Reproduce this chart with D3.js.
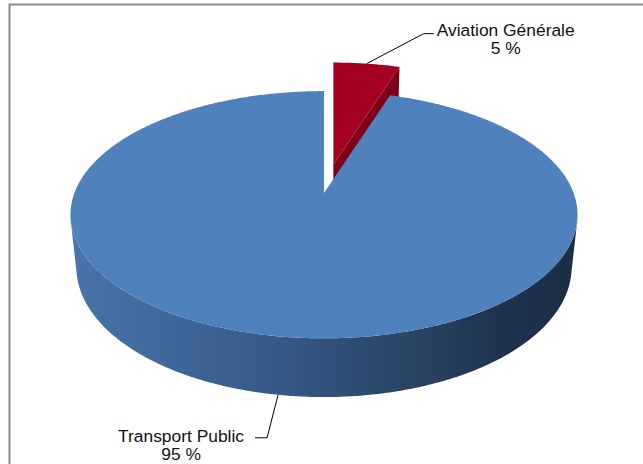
<!DOCTYPE html>
<html>
<head>
<meta charset="utf-8">
<script src="https://cdn.jsdelivr.net/npm/d3@7"></script>
<style>
  html, body { margin: 0; padding: 0; background: #ffffff; overflow: hidden; }
  text { font-family: "Liberation Sans", Arial, sans-serif; }
</style>
</head>
<body>
<svg id="chart" width="643" height="464"></svg>
<script>
// ---- data ----
const categories = ["Aviation Générale", "Transport Public"];
const values = [5, 95];
const valueLabels = ["5 %", "95 %"];

// ---- style ----
const topColors = ["#a50021", "#4f81bd"];
const cutColors = ["#7e0018", "#2e4d75"];
const explodePx = [30, 0];
// label placement: leader elbow offset from anchor, tick length, text centre offset, baselines
const labelLayout = [
  { elbow: [57, -30], tick: 10, textDx: 82, line1: 2, line2: 20 },
  { elbow: [-11, 43], tick: -12, textDx: -86, line1: 4, line2: 22 }
];

const W = 643, H = 464;
const svg = d3.select("#chart");

// outer frame
svg.append("rect")
  .attr("x", 9.5).attr("y", 4.5)
  .attr("width", W).attr("height", H)
  .attr("fill", "#ffffff")
  .attr("stroke", "#8c8c8c")
  .attr("stroke-width", 2);

// ---- 3D view ----
const view = { cx: 324, cy: 193, f: 1248, D: 5, elev: Math.asin(0.48), depth: 0.243 };
const sinE = Math.sin(view.elev), cosE = Math.cos(view.elev);
const cam = [0, view.D * cosE, view.D * sinE];

// a: angle clockwise from the far point, r: radius (0..1), z: height (0 top, -depth bottom)
function project(a, r, z) {
  const X = r * Math.sin(a), Y = -r * Math.cos(a);
  const d = view.D - Y * cosE - z * sinE;
  const v = Y * sinE - z * cosE;
  return [view.cx + view.f * X / d, view.cy + view.f * v / d];
}

const defs = svg.append("defs");
const wallGrad = defs.append("linearGradient")
  .attr("id", "wallGrad")
  .attr("gradientUnits", "userSpaceOnUse")
  .attr("x1", 69).attr("y1", 0).attr("x2", 578).attr("y2", 0);
[
  [0, "#4a74aa"], [0.18, "#40689b"], [0.38, "#375c8a"], [0.52, "#30507a"],
  [0.7, "#27425f"], [0.85, "#1f3350"], [1, "#1c2c44"]
].forEach(([o, c]) => wallGrad.append("stop").attr("offset", o).attr("stop-color", c));

const pie = d3.pie().sort(null).value(d => d);
const arcs = pie(values);

const line = d3.line();
const step = Math.PI / 360;
function arcPoints(a0, a1, r, z) {
  const pts = [];
  const n = Math.max(2, Math.ceil((a1 - a0) / step));
  for (let i = 0; i <= n; i++) pts.push(project(a0 + (a1 - a0) * i / n, r, z));
  return pts;
}

// visible range of the outer wall
const tMin = Math.acos(-1 / (view.D * cosE));
const tMax = 2 * Math.PI - tMin;

const slices = arcs.map((d, i) => {
  const mid = (d.startAngle + d.endAngle) / 2;
  const c0 = project(mid, 0, 0), c1 = project(mid, 1, 0);
  const len = Math.hypot(c1[0] - c0[0], c1[1] - c0[1]);
  const off = [(c1[0] - c0[0]) / len * explodePx[i], (c1[1] - c0[1]) / len * explodePx[i]];
  return { d, i, mid, off };
});

// draw far slices first
const order = slices.slice().sort((a, b) => Math.cos(b.mid) - Math.cos(a.mid));

const pieG = svg.append("g");
const h = -view.depth;

order.forEach(s => {
  const { d, i, off } = s;
  const g = pieG.append("g").attr("transform", `translate(${off[0]},${off[1]})`);

  // outer wall
  const lo = Math.max(d.startAngle, tMin), hi = Math.min(d.endAngle, tMax);
  if (lo < hi) {
    const pts = arcPoints(lo, hi, 1, 0).concat(arcPoints(lo, hi, 1, h).reverse());
    g.append("path").attr("d", line(pts) + "Z").attr("fill", "url(#wallGrad)");
  }

  // radial cut faces
  const faces = [];
  if (-Math.sin(d.startAngle) * cam[1] > 1e-6) faces.push(d.startAngle);
  if (Math.sin(d.endAngle) * cam[1] > 1e-6) faces.push(d.endAngle);
  faces.forEach(a => {
    const pts = [project(a, 0, 0), project(a, 1, 0), project(a, 1, h), project(a, 0, h)];
    g.append("path").attr("d", line(pts) + "Z").attr("fill", cutColors[i]);
  });

  // top face
  const top = [project(0, 0, 0)].concat(arcPoints(d.startAngle, d.endAngle, 1, 0));
  g.append("path").attr("d", line(top) + "Z").attr("fill", topColors[i]);
});

// ---- labels with leader lines ----
slices.forEach(s => {
  const { d, i, mid, off } = s;
  const front = Math.cos(mid) < 0;
  const p = project(mid, 1, front ? h : 0);
  const anchor = [p[0] + off[0], p[1] + off[1]];
  const L = labelLayout[i];
  const elbow = [anchor[0] + L.elbow[0], anchor[1] + L.elbow[1]];
  const end = [elbow[0] + L.tick, elbow[1]];
  svg.append("path")
    .attr("d", line([anchor, elbow, end]))
    .attr("fill", "none")
    .attr("stroke", "#000000")
    .attr("stroke-width", 1);

  const tx = elbow[0] + L.textDx;
  const t = svg.append("text")
    .attr("text-anchor", "middle")
    .attr("font-size", 17.4)
    .attr("fill", "#111111");
  t.append("tspan").attr("x", tx).attr("y", elbow[1] + L.line1).text(categories[i]);
  t.append("tspan").attr("x", tx).attr("y", elbow[1] + L.line2).text(valueLabels[i]);
});
</script>
</body>
</html>
